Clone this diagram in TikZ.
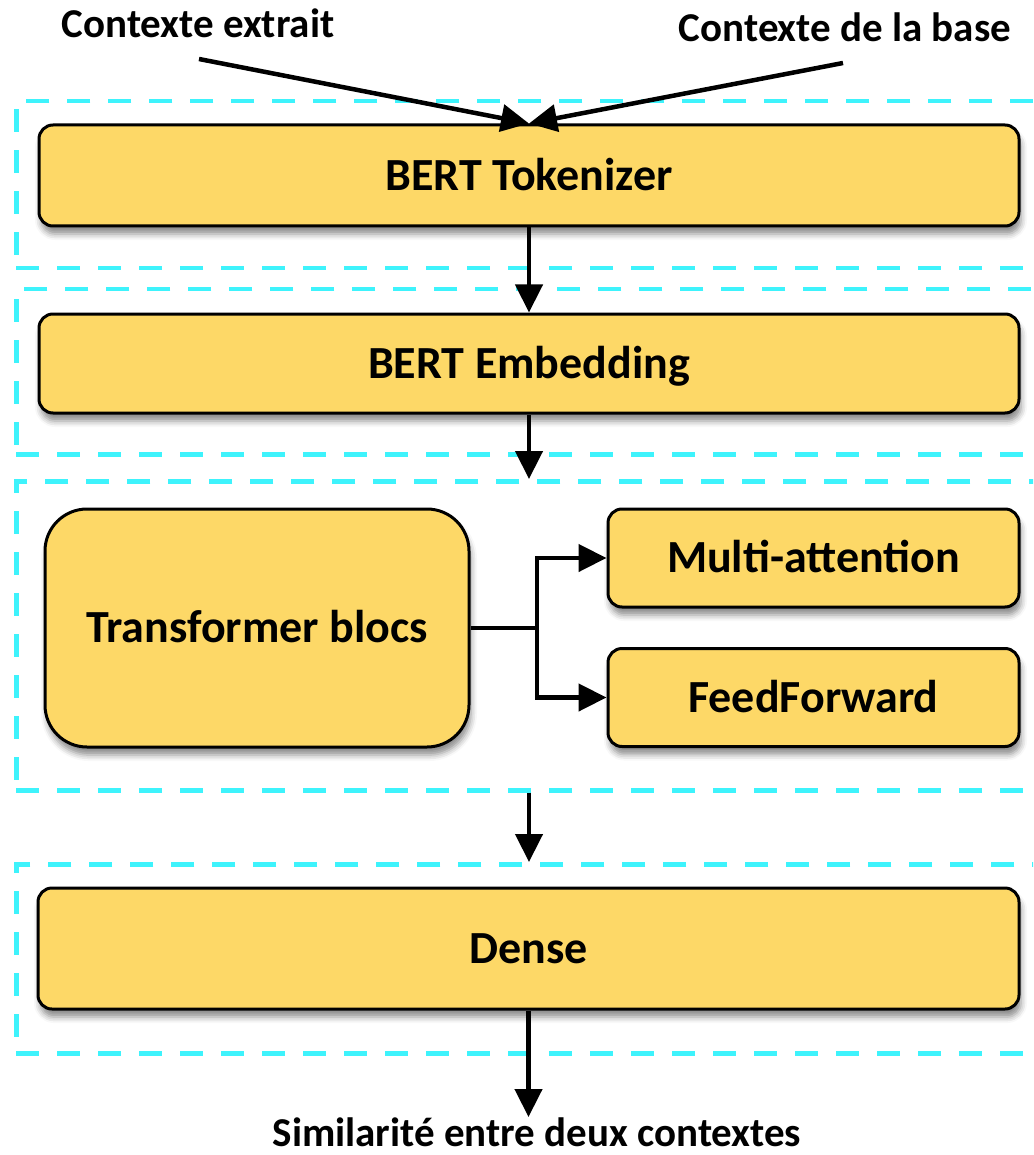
\documentclass[tikz,border=0pt]{standalone}
\usepackage{fontspec}
\setmainfont{Carlito}
\usetikzlibrary{arrows.meta,shadows.blur}
\definecolor{boxfill}{HTML}{FDD867}
\definecolor{framecyan}{HTML}{3EF3FC}
\tikzset{
  block/.style={draw=black, line width=3pt, fill=boxfill, rounded corners=14pt,
    font=\fontsize{46}{52}\selectfont\bfseries, inner sep=0pt,
    text height=29.6pt, text depth=0pt,
    blur shadow={shadow xshift=2pt, shadow yshift=-8pt, shadow blur radius=6pt, shadow opacity=45}},
  frame/.style={draw=framecyan, line width=4.5pt, dash pattern=on 23pt off 18pt, inner sep=0pt},
  label/.style={font=\fontsize{41}{46}\selectfont\bfseries, inner sep=0pt, anchor=base},
  arr/.style={line width=4.5pt, -{Triangle[length=28pt,width=27pt]}},
}
\begin{document}
\begin{tikzpicture}[x=1pt,y=-1pt]
\useasboundingbox (0,0) rectangle (1033,1155);
\clip (0,0) rectangle (1033,1155);

% dashed grouping frames (open to the right)
\node[frame, minimum width=1040pt, minimum height=167pt, anchor=north west] (f1) at (14,99) {};
\node[frame, minimum width=1040pt, minimum height=165pt, anchor=north west] (f2) at (14,287) {};
\node[frame, minimum width=1040pt, minimum height=309pt, anchor=north west] (f3) at (14,479) {};
\node[frame, minimum width=1040pt, minimum height=189pt, anchor=north west] (f4) at (14,862) {};

% processing blocks
\node[block, minimum width=980pt, minimum height=101pt] (tok) at (529,175.5) {BERT Tokenizer};
\node[block, minimum width=980pt, minimum height=99pt] (emb) at (529,363.5) {BERT Embedding};
\node[block, rounded corners=42pt, minimum width=424pt, minimum height=238pt] (tb) at (257,628) {Transformer blocs};
\node[block, minimum width=411pt, minimum height=98pt] (ma) at (813.5,558) {Multi-attention};
\node[block, minimum width=411pt, minimum height=98pt] (ff) at (813.5,697.5) {FeedForward};
\node[block, minimum width=981pt, minimum height=121pt] (dense) at (528.5,948.5) {Dense};

% inputs and output
\node[label] (in1) at (198,38) {Contexte extrait};
\node[label] (in2) at (845,42) {Contexte de la base};
\node[label] (out) at (537,1146) {Similarité entre deux contextes};
\coordinate (s1) at (199,59);
\coordinate (s2) at (843,63);
\coordinate (br) at (537,628);

% connectors
\draw[arr] (s1) -- (tok.north);
\draw[arr] (s2) -- (tok.north);
\draw[arr] (tok.south) -- (emb.north);
\draw[arr] (emb.south) -- (emb.south |- f3.north);
\draw[line width=4.5pt] (tb.east) -- (br);
\draw[arr] (br) |- (ma.west);
\draw[arr] (br) |- (ff.west);
\draw[arr] (f3.south -| tok.south) -- (f4.north -| tok.south);
\draw[arr] (dense.south) -- (dense.south |- 0,1117);
\end{tikzpicture}
\end{document}
